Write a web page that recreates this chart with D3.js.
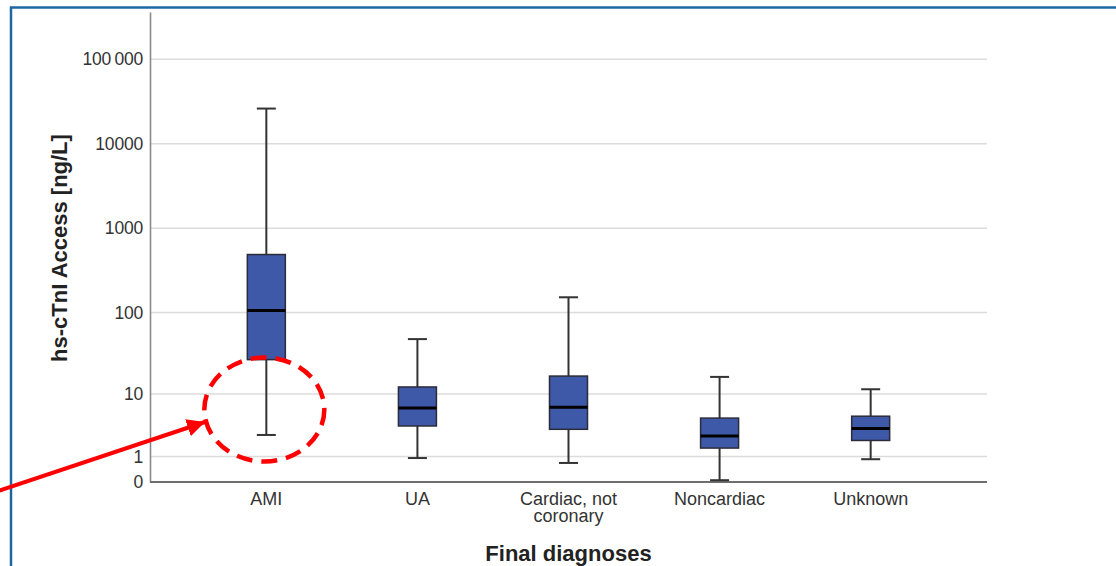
<!DOCTYPE html>
<html>
<head>
<meta charset="utf-8">
<script src="https://cdn.jsdelivr.net/npm/d3@7"></script>
<style>
  html, body { margin: 0; padding: 0; background: #fff; }
  svg { display: block; font-family: "Liberation Sans", Arial, sans-serif; }
</style>
</head>
<body>
<svg id="chart" width="1116" height="566"></svg>
<script>
// Diagnosis groups along the x axis
const categories = ["AMI", "UA", "Cardiac, not coronary", "Noncardiac", "Unknown"];
const categoryLines = [["AMI"], ["UA"], ["Cardiac, not", "coronary"], ["Noncardiac"], ["Unknown"]];

// Box-plot statistics per group (ng/L)
const whiskerLow  = [2.6, 0.92, 0.68, 0.05, 0.86];
const q1          = [27, 3.6, 3.2, 1.52, 2.1];
const median      = [106, 6.5, 6.65, 2.5, 3.3];
const q3          = [489, 12.3, 16.9, 4.7, 5.0];
const whiskerHigh = [26100, 48, 152, 16.5, 11.5];

// Y axis ticks and their printed labels
const tickValues = [0, 1, 10, 100, 1000, 10000, 100000];
const tickLabels = ["0", "1", "10", "100", "1000", "10000", "100\u2009000"];

const boxes = categories.map((c, i) => ({
  cat: c, lo: whiskerLow[i], q1: q1[i], med: median[i], q3: q3[i], hi: whiskerHigh[i]
}));

const svg = d3.select("#chart");

// Frame around the figure
svg.append("rect")
  .attr("x", 11).attr("y", 7.5)
  .attr("width", 1200).attr("height", 700)
  .attr("fill", "none")
  .attr("stroke", "#1f67a3").attr("stroke-width", 2.5);

const plot = { left: 150, right: 987, top: 12, bottom: 482 };

const x = d3.scalePoint().domain(categories).range([plot.left, plot.right]).padding(0.77);
const y = d3.scaleSymlog().constant(1).domain([0, 362000]).range([plot.bottom, plot.top]);

// Horizontal grid lines
svg.append("g").selectAll("line")
  .data(tickValues.filter(v => v > 0))
  .join("line")
  .attr("x1", plot.left).attr("x2", plot.right)
  .attr("y1", d => y(d)).attr("y2", d => y(d))
  .attr("stroke", "#dcdcdc").attr("stroke-width", 1.6);

// Y axis
const yAxis = d3.axisLeft(y)
  .tickValues(tickValues)
  .tickFormat((d, i) => tickLabels[i])
  .tickSize(0).tickPadding(7);
const gy = svg.append("g").attr("transform", `translate(${plot.left},0)`).call(yAxis);
gy.select(".domain").attr("stroke", "#8a8a8a").attr("stroke-width", 1.6);
gy.selectAll("text").attr("font-size", 17.5).attr("fill", "#333").attr("letter-spacing", "-0.2px");

// X axis
const xAxis = d3.axisBottom(x).tickSize(0).tickFormat("");
const gx = svg.append("g").attr("transform", `translate(0,${plot.bottom})`).call(xAxis);
gx.select(".domain").attr("stroke", "#6e6e6e").attr("stroke-width", 1.8)
  .attr("d", `M${plot.left},0H${plot.right}`);

// Category labels (some wrap to two lines)
const catLabels = svg.append("g").selectAll("text")
  .data(categories)
  .join("text")
  .attr("x", d => x(d))
  .attr("y", plot.bottom + 23)
  .attr("text-anchor", "middle")
  .attr("font-size", 18)
  .attr("fill", "#333");
catLabels.each(function(d, i) {
  d3.select(this).selectAll("tspan")
    .data(categoryLines[i])
    .join("tspan")
    .attr("x", x(d))
    .attr("dy", (t, j) => j === 0 ? 0 : 17)
    .text(t => t);
});

// Axis titles
svg.append("text")
  .attr("transform", `translate(67,${(plot.top + plot.bottom) / 2 + 1}) rotate(-90)`)
  .attr("text-anchor", "middle")
  .attr("font-size", 22).attr("font-weight", "bold").attr("fill", "#222")
  .text("hs-cTnI Access [ng/L]");

svg.append("text")
  .attr("x", x("Cardiac, not coronary"))
  .attr("y", 561)
  .attr("text-anchor", "middle")
  .attr("font-size", 22).attr("font-weight", "bold").attr("fill", "#222")
  .text("Final diagnoses");

// Box plots
const boxW = 38, capW = 19;
const g = svg.append("g").selectAll("g").data(boxes).join("g");

g.append("line")
  .attr("x1", d => x(d.cat)).attr("x2", d => x(d.cat))
  .attr("y1", d => y(d.hi)).attr("y2", d => y(d.lo))
  .attr("stroke", "#333").attr("stroke-width", 2);
g.append("line")
  .attr("x1", d => x(d.cat) - capW / 2).attr("x2", d => x(d.cat) + capW / 2)
  .attr("y1", d => y(d.hi)).attr("y2", d => y(d.hi))
  .attr("stroke", "#333").attr("stroke-width", 2);
g.append("line")
  .attr("x1", d => x(d.cat) - capW / 2).attr("x2", d => x(d.cat) + capW / 2)
  .attr("y1", d => y(d.lo)).attr("y2", d => y(d.lo))
  .attr("stroke", "#333").attr("stroke-width", 2);
g.append("rect")
  .attr("x", d => x(d.cat) - boxW / 2)
  .attr("y", d => y(d.q3))
  .attr("width", boxW)
  .attr("height", d => y(d.q1) - y(d.q3))
  .attr("fill", "#3e59a8")
  .attr("stroke", "#2b2b3a").attr("stroke-width", 1.5);
g.append("line")
  .attr("x1", d => x(d.cat) - boxW / 2).attr("x2", d => x(d.cat) + boxW / 2)
  .attr("y1", d => y(d.med)).attr("y2", d => y(d.med))
  .attr("stroke", "#000").attr("stroke-width", 3);

// Red highlight: dashed ellipse around the AMI lower whisker and arrow pointing at it
const ann = svg.append("g");
ann.append("ellipse")
  .attr("cx", x("AMI") - 2).attr("cy", 409.5)
  .attr("rx", 60).attr("ry", 52)
  .attr("fill", "none")
  .attr("stroke", "#ff0000").attr("stroke-width", 4.5)
  .attr("stroke-dasharray", "16 9");

svg.append("defs").append("marker")
  .attr("id", "arrowhead")
  .attr("viewBox", "0 0 10 10")
  .attr("refX", 10).attr("refY", 5)
  .attr("markerWidth", 4.5).attr("markerHeight", 4.5)
  .attr("markerUnits", "strokeWidth")
  .attr("orient", "auto")
  .append("path").attr("d", "M0,0L10,5L0,10Z").attr("fill", "#ff0000");

ann.append("line")
  .attr("x1", -2).attr("y1", 491)
  .attr("x2", 205).attr("y2", 422)
  .attr("stroke", "#ff0000").attr("stroke-width", 4)
  .attr("marker-end", "url(#arrowhead)");
</script>
</body>
</html>
